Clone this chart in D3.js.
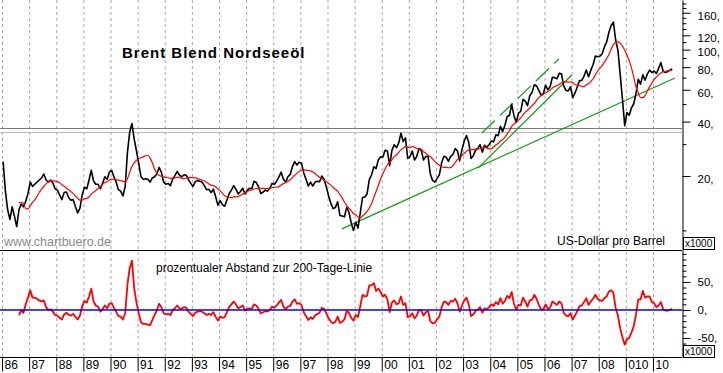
<!DOCTYPE html>
<html>
<head>
<meta charset="utf-8">
<script src="https://cdn.jsdelivr.net/npm/d3@7"></script>
<style>
body{margin:0;background:#fff;}
#oilChart{width:723px;height:373px;}
#oilChart text{font-family:"Liberation Sans",Arial,sans-serif;}
</style>
</head>
<body>
<div id="oilChart"></div>
<script>
/* Brent monthly values, first value = Jan 1986 */
var startYear=1986;
/* x axis: year ticks and their labels */
var yearTicks=[1986,1987,1988,1989,1990,1991,1992,1993,1994,1995,1996,1997,1998,1999,2000,2001,2002,2003,2004,2005,2006,2007,2008,2009,2010];
var yearLabels=["86","87","88","89","90","91","92","93","94","95","96","97","98","99","00","01","02","03","04","05","06","07","08","010","10"];
/* right axis ticks, upper panel (log) */
var priceTicksMajor=[20,40,60,80,100,120,160];
var priceTicksMinor=[10,30,50,70,90,110,130,140,150,170,180];
/* right axis ticks, lower panel */
var devTicksMajor=[-50,0,50];
var devTicksMinor=[-80,-70,-60,-40,-30,-20,-10,10,20,30,40,60,70,80,90,100];

/* price in USD per barrel */
var price=[
24,16.5,13,11.5,13.5,12,10.5,13,14,13.5,14.5,16,
18.5,17.5,18,18.5,19,19.5,20.5,19,18.5,19,18.3,17,
16.7,15.7,14.8,16.2,16.3,15.2,14.7,14.8,13.5,12.5,13.3,15.8,
17.3,17,19,21.5,18.8,18,18,17,18.2,19.8,19.2,21,
21.5,19.8,18.5,16.8,16.5,15.5,17.5,27,35,39,32,27.5,
23.5,19.8,19.2,19.3,19.2,18.5,19.5,19.8,20.5,22.3,21,18.5,
18,18.2,17.7,19.2,20.1,21.2,20.2,19.8,20.3,20.2,19.1,18.2,
17.5,18.6,18.9,18.7,18.5,17.7,16.8,16.9,16.2,16.9,15.4,13.8,
14.6,13.9,13.6,14.7,16,16.7,17.7,16.9,15.9,16.4,17.1,15.9,
16.7,17.1,17,18.7,18.4,17.4,16,16.3,16.7,16.5,17.1,18.2,
18,18.7,19.8,21,19.2,18.5,19.8,20.4,22.6,24,23,23.8,
23.5,20.8,19.2,17.6,18.5,17.6,18.5,18.7,18.6,20,19.2,17.4,
15.5,14.1,13.2,13.4,14.4,12.1,12,11.9,13.4,12.6,11,10,
11.1,10.3,12.5,15.2,15.3,15.9,19.1,20.3,22.5,22,24.6,25.5,
25.5,27.8,27.5,22.8,27.7,29.8,28.7,30.4,34.5,31,32.5,25,
25.6,27.5,24.5,25.7,28.4,27.7,24.5,25.7,25.6,20.5,18.9,18.5,
19.4,20.3,23.7,25.7,25.4,24.1,25.7,26.3,28.4,27.5,24.3,28,
31.2,33.5,30.6,25,25.9,27.7,28.4,29.8,27.1,29.6,28.8,29.8,
31.2,30.9,33.8,33.4,37.6,35.2,38.2,42.7,43.2,49.8,43.1,39.6,
44.5,45.5,53.1,51.9,49,55.6,57.9,63.9,63,59.5,56,57,
63.6,59.9,62.3,70.4,70,68.9,73.9,73.6,63,59.6,59.1,62.3,
54.3,57.6,62.1,67.5,67.5,71.3,77.2,70.8,77,82.5,92.1,91.4,
92,94.8,103.3,110.2,124.6,136,142,113,99,72.8,53.2,38,
44.9,43.4,47.7,50.2,57.3,68.6,64.4,72.5,67.7,73.2,77,74.7,
76.2,73.8,78.8,84.8,75.9,74.8,75.6,77.1,78.2];

/* 200-Tage-Linie, first value = Aug 1986 */
var maStart=7;
var ma200=[
14.25,14.2,14.15,13.2,13.15,
13.7,14.3,14.75,15.4,16.25,16.9,17.55,18.1,18.5,18.8,18.78,18.73,
18.6,18.32,17.9,17.57,17.15,16.77,16.39,15.97,15.49,15.04,14.7,14.71,
14.96,15.04,15.31,15.87,16.28,16.6,17.05,17.5,17.99,18.39,18.58,18.98,
19.23,19.13,19.1,18.98,18.83,18.68,18.61,19.33,20.91,22.61,23.66,24.43,
24.93,25.23,25.5,25.88,26.05,25.2,23.65,21.83,20.68,20.16,19.91,19.78,
19.66,19.55,19.4,19.47,19.53,19.67,19.64,19.39,19.32,19.49,19.6,19.6,
19.58,19.52,19.4,19.15,18.98,18.77,18.42,18.09,17.8,17.67,17.46,16.98,
16.55,16.07,15.58,15.28,15.2,15.18,15.33,15.33,15.38,15.64,15.89,16.09,
16.4,16.64,16.74,16.94,17.01,17.06,17.07,17.06,17.02,17.08,17.12,17.23,
17.33,17.33,17.47,17.83,18.15,18.37,18.68,19.07,19.62,20.2,20.7,21.21,
21.58,21.56,21.56,21.47,21.34,21.06,20.65,20.12,19.68,19.3,18.87,18.53,
18.16,17.81,17.28,16.86,16.45,15.79,15.13,14.32,13.74,13.26,12.81,12.4,
12.19,11.88,11.69,12,12.33,12.73,13.3,14.07,15.22,16.42,17.77,19.29,
20.59,21.85,23.07,23.76,24.62,25.57,26.19,27.03,27.88,28.43,29.13,28.85,
28.66,29.13,28.81,28.4,28.37,28.1,27.24,26.71,26.02,25.57,24.9,24,
23.49,22.95,22.48,22.28,22.37,22.21,22.22,22.8,23.75,24.65,25.14,25.91,
26.66,27.37,27.89,27.98,28,28.14,28.14,28.37,28.65,28.81,28.57,28.27,
28.33,28.92,29.71,30.28,31.2,31.74,32.85,34.16,35.6,37.6,38.79,39.66,
40.73,41.94,43.49,45.16,46.24,47.53,49,50.41,52.4,54.39,55.54,56.69,
57.74,58.54,59.87,61.35,62.56,63.06,64.15,65.56,66.26,66.52,66.07,66.31,
65.51,64.23,63.44,63.3,62.66,62.43,63.85,64.97,66.76,68.78,72.56,75.94,
78.93,81.66,85.24,89.13,93.87,100.39,106.69,109.74,110.43,108.57,104.69,99.21,
93.37,86.69,79,70.42,62.15,57.71,54.25,54.22,55.67,58.99,62.2,65.33,
68.18,70.54,72.69,74.31,75.46,75.69,76.48,76.87,76.99];

/* prozentualer Abstand zur 200-Tage-Linie, first value = Aug 1986 */
var deviation=[
-9,-1,-5,10,22,
35,22,22,20,17,15,17,5,0,1,-3,-9,
-10,-14,-17,-8,-5,-9,-10,-7,-13,-17,-10,7,
16,13,24,38,15,8,6,-3,1,8,3,11,
12,4,-3,-11,-12,-17,-6,45,75,88,38,13,
-6,-22,-25,-25,-26,-27,-18,-9,-1,11,5,-6,
-8,-7,-9,-1,3,8,3,2,5,4,-3,-7,
-11,-5,-3,-2,-3,-6,-9,-7,-9,-4,-12,-19,
-12,-14,-13,-4,5,10,15,10,3,5,8,-1,
2,3,2,10,8,2,-6,-4,-2,-3,0,6,
4,8,13,18,6,1,6,7,15,19,11,12,
9,-4,-11,-18,-13,-16,-10,-7,-5,4,2,-6,
-15,-21,-24,-21,-12,-23,-21,-17,-2,-5,-14,-19,
-9,-13,7,27,24,25,44,44,48,34,38,32,
24,27,19,-4,13,17,10,12,24,9,12,-13,
-11,-6,-15,-10,0,-1,-10,-4,-2,-20,-24,-23,
-17,-12,5,15,14,9,16,15,20,12,-3,8,
17,22,10,-11,-8,-2,1,5,-5,3,1,5,
10,7,14,10,21,11,16,25,21,32,11,0,
9,8,22,15,6,17,18,27,20,9,1,1,
10,2,4,15,12,9,15,12,-5,-10,-11,-6,
-17,-10,-2,7,8,14,21,9,15,20,27,20,
17,16,21,24,33,35,31,3,-10,-33,-49,-62,
-52,-50,-40,-29,-8,19,19,34,22,24,24,14,
12,5,8,14,1,-1,-1,0,2];

/* trend lines [year, USD] */
var supportLine=[[1998.53,10.2],[2010.81,69.7]];
var channelLow=[[2003.55,22.1],[2007.01,72.4]];
var channelHigh=[[2003.69,34.6],[2006.53,88.8]];
/* double horizontal resistance line */
var levelLines=[36.7,35.2];

/*画布*/
var svgWidth=723, svgHeight=373;
var plotRight=682;      // right axis position
var topBottom=250;      // bottom of upper panel
var lowBottom=357;      // x axis line

var svg=d3.select("#oilChart").append("svg")
    .attr("width",svgWidth)
    .attr("height",svgHeight)
    .style("background-color","#ffffff");

/*比例尺*/
var x=d3.scaleLinear().domain([1986,2011.07]).range([2,plotRight]);
var yTop=d3.scaleLog().domain([7.79,188.2]).range([topBottom,0]);
var yLow=d3.scaleLinear().domain([-84,107]).range([lowBottom,topBottom]);

function monthX(i,offset){ return x(startYear+(i+offset+0.5)/12); }

/* dashed vertical year grid */
svg.append("g")
    .attr("transform","translate(0,"+lowBottom+")")
    .call(d3.axisBottom(x).tickValues(yearTicks).tickSize(-lowBottom).tickFormat(""))
    .call(function(g){
        g.select(".domain").remove();
        g.selectAll("line").attr("stroke","#a8a8a8").attr("stroke-dasharray","3,3");
    });

/* gray double line */
svg.append("g").selectAll("line").data(levelLines).enter().append("line")
    .attr("x1",0).attr("x2",plotRight)
    .attr("y1",function(d){return Math.round(yTop(d))+0.5;})
    .attr("y2",function(d){return Math.round(yTop(d))+0.5;})
    .attr("stroke",function(d,i){return i===0?"#7a7a7a":"#b8b8b8";})
    .attr("stroke-width",1);

/* green trend lines */
var trendLine=d3.line().x(function(d){return x(d[0]);}).y(function(d){return yTop(d[1]);});
svg.append("path").datum(supportLine).attr("d",trendLine)
    .attr("fill","none").attr("stroke","#139a13").attr("stroke-width",1.2);
svg.append("path").datum(channelLow).attr("d",trendLine)
    .attr("fill","none").attr("stroke","#139a13").attr("stroke-width",1.2);
svg.append("path").datum(channelHigh).attr("d",trendLine)
    .attr("fill","none").attr("stroke","#139a13").attr("stroke-width",1.2)
    .attr("stroke-dasharray","18,7");

/* price line */
svg.append("path").datum(price)
    .attr("d",d3.line().x(function(d,i){return monthX(i,0);}).y(function(d){return yTop(d);}))
    .attr("fill","none").attr("stroke","#000").attr("stroke-width",1.6)
    .attr("stroke-linejoin","round");

/* 200 day line */
svg.append("path").datum(ma200)
    .attr("d",d3.line().curve(d3.curveMonotoneX)
        .x(function(d,i){return monthX(i,maStart);}).y(function(d){return yTop(d);}))
    .attr("fill","none").attr("stroke","#ff0000").attr("stroke-width",1.2);

/* panel separator */
svg.append("line").attr("x1",0).attr("x2",plotRight)
    .attr("y1",topBottom+0.5).attr("y2",topBottom+0.5)
    .attr("stroke","#000").attr("stroke-width",1);

/* lower panel: deviation */
svg.append("path").datum(deviation)
    .attr("d",d3.line().x(function(d,i){return monthX(i,maStart);}).y(function(d){return yLow(d);}))
    .attr("fill","none").attr("stroke","#ff0000").attr("stroke-width",1.8)
    .attr("stroke-linejoin","round");
svg.append("line").attr("x1",0).attr("x2",plotRight)
    .attr("y1",yLow(0)).attr("y2",yLow(0))
    .attr("stroke","#0000ff").attr("stroke-width",1.5);

/*右侧坐标轴*/
function rightAxis(scale,minor,major,dy){
    var g=svg.append("g").attr("transform","translate("+(plotRight+0.5)+",0)");
    g.append("g").call(d3.axisRight(scale).tickValues(minor).tickSize(4).tickSizeOuter(0).tickFormat(""));
    g.append("g").call(d3.axisRight(scale).tickValues(major).tickSize(8).tickPadding(7)
            .tickFormat(function(d){return d+",";}))
        .call(function(a){a.select(".domain").remove();});
    g.selectAll("text").attr("font-size","11.5px").attr("fill","#000").attr("dy",dy)
        .style("font-family","'Liberation Sans',Arial,sans-serif");
    g.selectAll("line,path").attr("stroke","#000");
    return g;
}
rightAxis(yTop,priceTicksMinor,priceTicksMajor,"0.55em");
rightAxis(yLow,devTicksMinor,devTicksMajor,"0.35em");

/*x轴*/
svg.append("g")
    .attr("transform","translate(0,"+(lowBottom+0.5)+")")
    .call(d3.axisBottom(x).tickValues(yearTicks).tickSize(14).tickSizeOuter(0).tickPadding(3)
        .tickFormat(function(d,i){return yearLabels[i];}))
    .call(function(g){
        g.select(".domain").attr("d","M0,0H"+plotRight);
        g.selectAll("line,path").attr("stroke","#000");
        g.selectAll("text").attr("text-anchor","start").attr("x",2).attr("y",3)
            .attr("font-size","12px").attr("fill","#000")
            .style("font-family","'Liberation Sans',Arial,sans-serif");
    });

/* x1000 boxes */
[237,345].forEach(function(top){
    svg.append("rect").attr("x",683.5).attr("y",top+0.5).attr("width",31).attr("height",12)
        .attr("fill","#fff").attr("stroke","#000").attr("stroke-width",1);
    svg.append("text").attr("x",685).attr("y",top+10).attr("font-size","10px").text("x1000");
});

/*文字*/
svg.append("text").attr("x",122).attr("y",58)
    .attr("font-size","15px").attr("font-weight","bold").attr("letter-spacing","1px")
    .text("Brent Blend Nordseeöl");
svg.append("text").attr("x",4).attr("y",246)
    .attr("font-size","12.5px").attr("fill","#8a8a8a")
    .text("www.chartbuero.de");
svg.append("text").attr("x",557).attr("y",245)
    .attr("font-size","12px")
    .text("US-Dollar pro Barrel");
svg.append("text").attr("x",156).attr("y",272)
    .attr("font-size","12px")
    .text("prozentualer Abstand zur 200-Tage-Linie");
</script>
</body>
</html>
